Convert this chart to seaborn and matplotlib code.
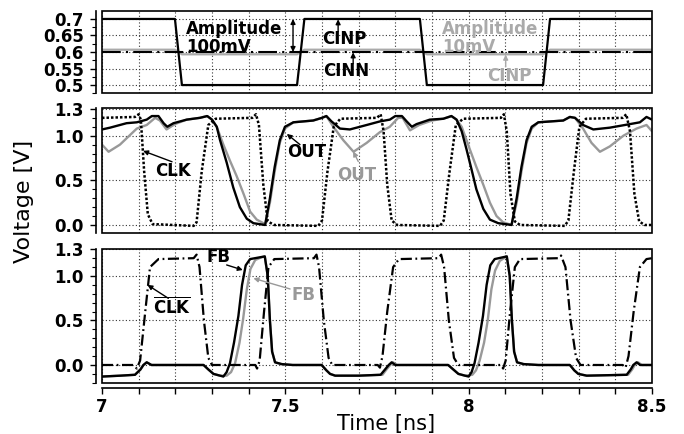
import matplotlib
matplotlib.use('Agg')
import matplotlib.pyplot as plt
import seaborn as sns
from matplotlib.ticker import MultipleLocator
from matplotlib.patches import Rectangle

# ---------------- data ----------------
# top panel: input signals
cinp_t = [7.000, 7.199, 7.218, 7.532, 7.552, 7.867, 7.886, 8.203, 8.222, 8.500]
cinp_big_v = [0.70, 0.70, 0.50, 0.50, 0.70, 0.70, 0.50, 0.50, 0.70, 0.70]
cinp_small_v = [0.607, 0.607, 0.593, 0.593, 0.607, 0.607, 0.593, 0.593, 0.607, 0.607]
cinn_t = [7.0, 8.5]
cinn_v = [0.6, 0.6]

# middle panel
clk_t = [7.000, 7.090, 7.100, 7.106, 7.115, 7.125, 7.138, 7.250, 7.258, 7.272, 7.290, 7.310,
         7.410, 7.420, 7.428, 7.440, 7.452, 7.470, 7.590, 7.600, 7.615, 7.632, 7.650,
         7.750, 7.760, 7.768, 7.778, 7.790, 7.805, 7.922, 7.932, 7.948, 7.965, 7.985,
         8.088, 8.096, 8.104, 8.114, 8.126, 8.140, 8.262, 8.272, 8.287, 8.302, 8.320,
         8.420, 8.430, 8.440, 8.452, 8.465, 8.480, 8.500]
clk_v = [1.20, 1.21, 1.24, 1.18, 0.60, 0.12, 0.01, -0.01, 0.03, 0.60, 1.12, 1.19,
         1.20, 1.24, 1.12, 0.45, 0.04, 0.00, -0.01, 0.05, 0.60, 1.10, 1.19,
         1.20, 1.24, 1.05, 0.45, 0.05, 0.00, -0.01, 0.05, 0.60, 1.12, 1.19,
         1.20, 1.24, 1.05, 0.35, 0.04, 0.00, -0.01, 0.05, 0.60, 1.10, 1.19,
         1.20, 1.24, 1.05, 0.35, 0.04, 0.00, 0.00]

out_t = [7.000, 7.022, 7.067, 7.095, 7.122, 7.136, 7.154, 7.168, 7.178, 7.195, 7.231, 7.267,
         7.287, 7.300, 7.313, 7.322, 7.340, 7.358, 7.376, 7.395, 7.413, 7.445, 7.458, 7.471,
         7.485, 7.499, 7.522, 7.576, 7.600, 7.612, 7.626, 7.649, 7.676, 7.722, 7.758, 7.785,
         7.800, 7.818, 7.831, 7.845, 7.858, 7.894, 7.931, 7.953, 7.967, 7.981, 7.994, 8.008,
         8.021, 8.040, 8.058, 8.081, 8.117, 8.131, 8.144, 8.158, 8.172, 8.190, 8.258, 8.276,
         8.290, 8.312, 8.340, 8.385, 8.440, 8.467, 8.485, 8.500]
out_v = [1.07, 1.09, 1.14, 1.15, 1.18, 1.22, 1.22, 1.14, 1.10, 1.14, 1.18, 1.20,
         1.22, 1.18, 1.10, 0.95, 0.70, 0.42, 0.20, 0.07, 0.02, 0.00, 0.30, 0.65,
         0.95, 1.10, 1.15, 1.17, 1.20, 1.22, 1.16, 1.08, 1.07, 1.12, 1.16, 1.18,
         1.22, 1.22, 1.16, 1.10, 1.13, 1.18, 1.19, 1.22, 1.18, 1.05, 0.85, 0.62,
         0.40, 0.18, 0.06, 0.02, 0.00, 0.30, 0.65, 0.95, 1.10, 1.15, 1.17, 1.21,
         1.20, 1.12, 1.07, 1.09, 1.13, 1.15, 1.21, 1.18]

outg_t = [7.000, 7.018, 7.049, 7.095, 7.122, 7.145, 7.158, 7.176, 7.199, 7.231, 7.267, 7.287,
          7.300, 7.313, 7.331, 7.349, 7.367, 7.386, 7.404, 7.422, 7.445, 7.458, 7.471, 7.485,
          7.499, 7.522, 7.576, 7.600, 7.612, 7.631, 7.658, 7.686, 7.722, 7.758, 7.785, 7.808,
          7.820, 7.840, 7.865, 7.900, 7.931, 7.953, 7.967, 7.981, 8.003, 8.021, 8.040, 8.058,
          8.076, 8.094, 8.117, 8.131, 8.144, 8.158, 8.172, 8.190, 8.258, 8.276, 8.290, 8.312,
          8.335, 8.358, 8.385, 8.422, 8.458, 8.485, 8.500]
outg_v = [0.90, 0.82, 0.90, 1.08, 1.12, 1.20, 1.17, 1.07, 1.13, 1.18, 1.20, 1.22,
          1.18, 1.10, 0.90, 0.72, 0.55, 0.35, 0.15, 0.06, 0.01, 0.25, 0.60, 0.92,
          1.08, 1.15, 1.17, 1.20, 1.22, 1.10, 0.95, 0.82, 0.92, 1.04, 1.10, 1.20,
          1.20, 1.06, 1.12, 1.17, 1.19, 1.22, 1.18, 1.10, 0.85, 0.65, 0.45, 0.25,
          0.10, 0.03, 0.00, 0.25, 0.60, 0.92, 1.08, 1.15, 1.17, 1.21, 1.20, 1.08,
          0.92, 0.82, 0.88, 1.00, 1.08, 1.12, 1.05]

# bottom panel
clkb_t = [7.000, 7.085, 7.095, 7.104, 7.118, 7.131, 7.154, 7.250, 7.258, 7.266, 7.278, 7.290,
          7.300, 7.418, 7.423, 7.430, 7.442, 7.454, 7.470, 7.578, 7.585, 7.592, 7.605, 7.618,
          7.628, 7.752, 7.758, 7.765, 7.778, 7.794, 7.810, 7.918, 7.925, 7.933, 7.946, 7.960,
          7.972, 8.088, 8.094, 8.101, 8.113, 8.126, 8.140, 8.245, 8.252, 8.264, 8.278, 8.293,
          8.305, 8.420, 8.428, 8.436, 8.450, 8.467, 8.485, 8.500]
clkb_v = [0.00, 0.00, -0.04, 0.05, 0.60, 1.10, 1.19, 1.20, 1.24, 1.10, 0.50, 0.08,
          0.00, 0.00, -0.04, 0.05, 0.60, 1.10, 1.19, 1.20, 1.24, 1.10, 0.50, 0.08,
          0.00, 0.00, -0.03, 0.10, 0.60, 1.10, 1.19, 1.20, 1.24, 1.10, 0.50, 0.08,
          0.00, 0.00, -0.04, 0.05, 0.60, 1.10, 1.19, 1.20, 1.23, 1.10, 0.50, 0.08,
          0.00, 0.00, -0.03, 0.10, 0.60, 1.10, 1.19, 1.20]

fb_t = [7.000, 7.050, 7.090, 7.105, 7.113, 7.122, 7.135, 7.277, 7.290, 7.304, 7.322, 7.331,
        7.340, 7.349, 7.360, 7.372, 7.382, 7.392, 7.404, 7.444, 7.452, 7.458, 7.464, 7.472,
        7.490, 7.520, 7.599, 7.612, 7.622, 7.636, 7.700, 7.760, 7.772, 7.782, 7.790, 7.800,
        7.944, 7.958, 7.972, 7.990, 8.000, 8.008, 8.016, 8.027, 8.039, 8.049, 8.059, 8.071,
        8.104, 8.112, 8.118, 8.124, 8.132, 8.150, 8.190, 8.276, 8.288, 8.299, 8.322, 8.431,
        8.442, 8.449, 8.458, 8.468, 8.500]
fb_v = [-0.13, -0.12, -0.11, -0.05, 0.00, 0.03, 0.00, 0.00, -0.05, -0.10, -0.12, -0.13,
        -0.08, 0.02, 0.25, 0.55, 0.90, 1.12, 1.19, 1.22, 1.00, 0.50, 0.15, 0.03,
        0.01, 0.00, 0.00, -0.06, -0.10, -0.12, -0.12, -0.11, -0.05, 0.00, 0.03, 0.00,
        0.00, -0.05, -0.10, -0.12, -0.13, -0.08, 0.02, 0.25, 0.55, 0.90, 1.12, 1.19,
        1.22, 1.00, 0.50, 0.15, 0.03, 0.01, 0.00, 0.00, -0.06, -0.10, -0.12, -0.11,
        -0.05, 0.00, 0.03, 0.00, 0.00]

fbg_t = [7.000, 7.050, 7.090, 7.105, 7.113, 7.122, 7.135, 7.277, 7.290, 7.304, 7.322, 7.340,
         7.352, 7.363, 7.375, 7.385, 7.395, 7.405, 7.418, 7.435, 7.444, 7.452, 7.458, 7.464,
         7.472, 7.490, 7.520, 7.599, 7.612, 7.622, 7.636, 7.700, 7.765, 7.776, 7.786, 7.794,
         7.804, 7.944, 7.958, 7.972, 7.990, 8.010, 8.020, 8.030, 8.042, 8.052, 8.062, 8.072,
         8.085, 8.100, 8.104, 8.112, 8.118, 8.124, 8.132, 8.150, 8.190, 8.276, 8.288, 8.299,
         8.322, 8.435, 8.446, 8.453, 8.462, 8.472, 8.500]
fbg_v = [-0.13, -0.12, -0.11, -0.05, 0.00, 0.03, 0.00, 0.00, -0.05, -0.10, -0.12, -0.12,
         -0.08, 0.02, 0.25, 0.52, 0.85, 1.08, 1.18, 1.21, 1.22, 1.00, 0.50, 0.15,
         0.03, 0.01, 0.00, 0.00, -0.06, -0.10, -0.12, -0.12, -0.11, -0.05, 0.00, 0.03,
         0.00, 0.00, -0.05, -0.10, -0.12, -0.11, -0.06, 0.05, 0.25, 0.50, 0.85, 1.06,
         1.17, 1.21, 1.22, 1.00, 0.50, 0.15, 0.03, 0.01, 0.00, 0.00, -0.06, -0.10,
         -0.12, -0.11, -0.05, 0.00, 0.03, 0.00, 0.00]

top_yticks = [0.5, 0.55, 0.6, 0.65, 0.7]
top_ylabels = ['0.5', '0.55', '0.6', '0.65', '0.7']
v_yticks = [0.0, 0.5, 1.0, 1.3]
v_ylabels = ['0.0', '0.5', '1.0', '1.3']
x_ticks = [7, 7.5, 8, 8.5]
x_labels = ['7', '7.5', '8', '8.5']

# ---------------- style ----------------
sns.set_theme(style='ticks')
plt.rcParams['font.family'] = ['DejaVu Sans']
plt.rcParams['mathtext.fontset'] = 'dejavusans'
plt.rcParams['text.color'] = 'black'
plt.rcParams['axes.labelcolor'] = 'black'
plt.rcParams['xtick.color'] = 'black'
plt.rcParams['ytick.color'] = 'black'

GREY = '#999999'
GREY_TOP = '#aaaaaa'

fig = plt.figure(figsize=(6.84, 4.34), dpi=100)
ax_top = fig.add_axes([0.1491, 0.785, 0.8041, 0.1896])
ax_mid = fig.add_axes([0.1491, 0.4631, 0.8041, 0.288])
ax_bot = fig.add_axes([0.1491, 0.118, 0.8041, 0.3076])


def style(ax, ylim, yticks, ylabels, yminor, show_x=False):
    ax.set_xlim(7, 8.5)
    ax.set_ylim(*ylim)
    ax.xaxis.set_major_locator(MultipleLocator(0.5))
    ax.xaxis.set_minor_locator(MultipleLocator(0.1))
    ax.set_yticks(yticks)
    ax.set_yticklabels(ylabels)
    ax.yaxis.set_minor_locator(MultipleLocator(yminor))
    ax.grid(True, axis='x', which='both', color='#333333', linestyle=(0, (1, 2)), linewidth=0.8)
    ax.grid(True, axis='y', which='major', color='#333333', linestyle=(0, (1, 2)), linewidth=0.8)
    for s in ['top', 'right', 'bottom']:
        ax.spines[s].set_visible(False)
    ax.spines['left'].set_position(('outward', 4))
    ax.spines['left'].set_linewidth(1.2)
    ax.spines['left'].set_color('black')
    ax.add_patch(Rectangle((0, 0), 1, 1, transform=ax.transAxes, fill=False, lw=1.2,
                           ec='black', clip_on=False, zorder=6))
    ax.tick_params(axis='y', which='major', direction='out', length=4, width=1,
                   pad=5, labelsize=12, colors='black')
    ax.tick_params(axis='y', which='minor', direction='out', length=3, width=0.8,
                   colors='black')
    for lab in ax.get_yticklabels():
        lab.set_fontweight('bold')
    if show_x:
        ax.spines['bottom'].set_visible(True)
        ax.spines['bottom'].set_position(('outward', 4))
        ax.spines['bottom'].set_linewidth(1.2)
        ax.spines['bottom'].set_color('black')
        ax.set_xticks(x_ticks)
        ax.set_xticklabels(x_labels)
        ax.tick_params(axis='x', which='both', direction='out', length=4, width=1,
                       pad=3, labelsize=12, colors='black')
        for lab in ax.get_xticklabels():
            lab.set_fontweight('bold')
    else:
        ax.tick_params(axis='x', which='both', length=0, labelbottom=False)
    ax.set_xlabel('')
    ax.set_ylabel('')


def line(ax, t, v, **kw):
    sns.lineplot(x=t, y=v, ax=ax, estimator=None, sort=False, legend=False, **kw)


# ---- top panel ----
line(ax_top, cinp_t, cinp_small_v, color=GREY_TOP, linewidth=1.6)
line(ax_top, cinn_t, cinn_v, color='black', linewidth=1.5, linestyle=(0, (9, 2.5, 1, 2.5)))
line(ax_top, cinp_t, cinp_big_v, color='black', linewidth=1.6)
style(ax_top, (0.475, 0.724), top_yticks, top_ylabels, 0.025)

fs = 12
ax_top.text(7.229, 0.697, 'Amplitude\n100mV', ha='left', va='top', fontsize=fs,
            fontweight='bold', linespacing=1.0, color='black')
ax_top.annotate('', xy=(7.521, 0.700), xytext=(7.521, 0.600),
                arrowprops=dict(arrowstyle='<|-|>', color='black', lw=1.0,
                                mutation_scale=7, shrinkA=0, shrinkB=0))
ax_top.text(7.600, 0.639, 'CINP', ha='left', va='center', fontsize=fs, fontweight='bold',
            color='black')
ax_top.annotate('', xy=(7.644, 0.699), xytext=(7.644, 0.662),
                arrowprops=dict(arrowstyle='-|>', color='black', lw=1.0,
                                mutation_scale=7, shrinkA=0, shrinkB=0))
ax_top.text(7.603, 0.541, 'CINN', ha='left', va='center', fontsize=fs, fontweight='bold',
            color='black')
ax_top.annotate('', xy=(7.685, 0.599), xytext=(7.685, 0.565),
                arrowprops=dict(arrowstyle='-|>', color='black', lw=1.0,
                                mutation_scale=7, shrinkA=0, shrinkB=0))
ax_top.text(7.927, 0.697, 'Amplitude\n10mV', ha='left', va='top', fontsize=fs,
            fontweight='bold', linespacing=1.0, color=GREY_TOP)
ax_top.annotate('', xy=(8.024, 0.609), xytext=(8.024, 0.591),
                arrowprops=dict(arrowstyle='<|-|>', color=GREY_TOP, lw=1.0,
                                mutation_scale=5, shrinkA=0, shrinkB=0))
ax_top.text(8.050, 0.526, 'CINP', ha='left', va='center', fontsize=fs, fontweight='bold',
            color=GREY_TOP)
ax_top.annotate('', xy=(8.101, 0.592), xytext=(8.101, 0.555),
                arrowprops=dict(arrowstyle='-|>', color=GREY_TOP, lw=1.0,
                                mutation_scale=7, shrinkA=0, shrinkB=0))

# ---- middle panel ----
line(ax_mid, outg_t, outg_v, color=GREY, linewidth=1.7)
line(ax_mid, out_t, out_v, color='black', linewidth=1.7)
line(ax_mid, clk_t, clk_v, color='black', linewidth=1.8, linestyle=(0, (1, 0.8)))
style(ax_mid, (-0.09, 1.31), v_yticks, v_ylabels, 0.1)

ax_mid.text(7.145, 0.607, 'CLK', ha='left', va='center', fontsize=fs, fontweight='bold',
            color='black')
ax_mid.annotate('', xy=(7.112, 0.83), xytext=(7.191, 0.708),
                arrowprops=dict(arrowstyle='-|>', color='black', lw=1.0,
                                mutation_scale=7, shrinkA=0, shrinkB=0))
ax_mid.text(7.504, 0.82, 'OUT', ha='left', va='center', fontsize=fs, fontweight='bold',
            color='black')
ax_mid.annotate('', xy=(7.504, 1.02), xytext=(7.540, 0.90),
                arrowprops=dict(arrowstyle='-|>', color='black', lw=1.0,
                                mutation_scale=7, shrinkA=0, shrinkB=0))
ax_mid.text(7.641, 0.556, 'OUT', ha='left', va='center', fontsize=fs, fontweight='bold',
            color=GREY)
ax_mid.annotate('', xy=(7.685, 0.824), xytext=(7.699, 0.711),
                arrowprops=dict(arrowstyle='-|>', color=GREY, lw=1.0,
                                mutation_scale=7, shrinkA=0, shrinkB=0))

# ---- bottom panel ----
line(ax_bot, fbg_t, fbg_v, color=GREY, linewidth=1.7)
line(ax_bot, fb_t, fb_v, color='black', linewidth=1.7)
line(ax_bot, clkb_t, clkb_v, color='black', linewidth=1.6, linestyle=(0, (5, 1.6, 0.8, 1.6)))
style(ax_bot, (-0.2, 1.3), v_yticks, v_ylabels, 0.1, show_x=True)

ax_bot.text(7.286, 1.208, 'FB', ha='left', va='center', fontsize=fs, fontweight='bold',
            color='black')
ax_bot.annotate('', xy=(7.384, 1.067), xytext=(7.340, 1.124),
                arrowprops=dict(arrowstyle='-|>', color='black', lw=1.0,
                                mutation_scale=7, shrinkA=0, shrinkB=0))
ax_bot.text(7.517, 0.781, 'FB', ha='left', va='center', fontsize=fs, fontweight='bold',
            color=GREY)
ax_bot.annotate('', xy=(7.413, 0.974), xytext=(7.513, 0.854),
                arrowprops=dict(arrowstyle='-|>', color=GREY, lw=1.0,
                                mutation_scale=7, shrinkA=0, shrinkB=0))
ax_bot.text(7.140, 0.660, r'$\overline{\mathbf{CLK}}$', ha='left', va='center', fontsize=fs,
            color='black')
ax_bot.annotate('', xy=(7.124, 0.90), xytext=(7.181, 0.749),
                arrowprops=dict(arrowstyle='-|>', color='black', lw=1.0,
                                mutation_scale=7, shrinkA=0, shrinkB=0))

# ---- axis labels ----
fig.text(0.035, 0.535, 'Voltage [V]', rotation=90, ha='center', va='center', fontsize=16,
         color='black')
fig.text(0.564, 0.024, 'Time [ns]', ha='center', va='center', fontsize=15, color='black')

fig.savefig('out.png', dpi=100)
